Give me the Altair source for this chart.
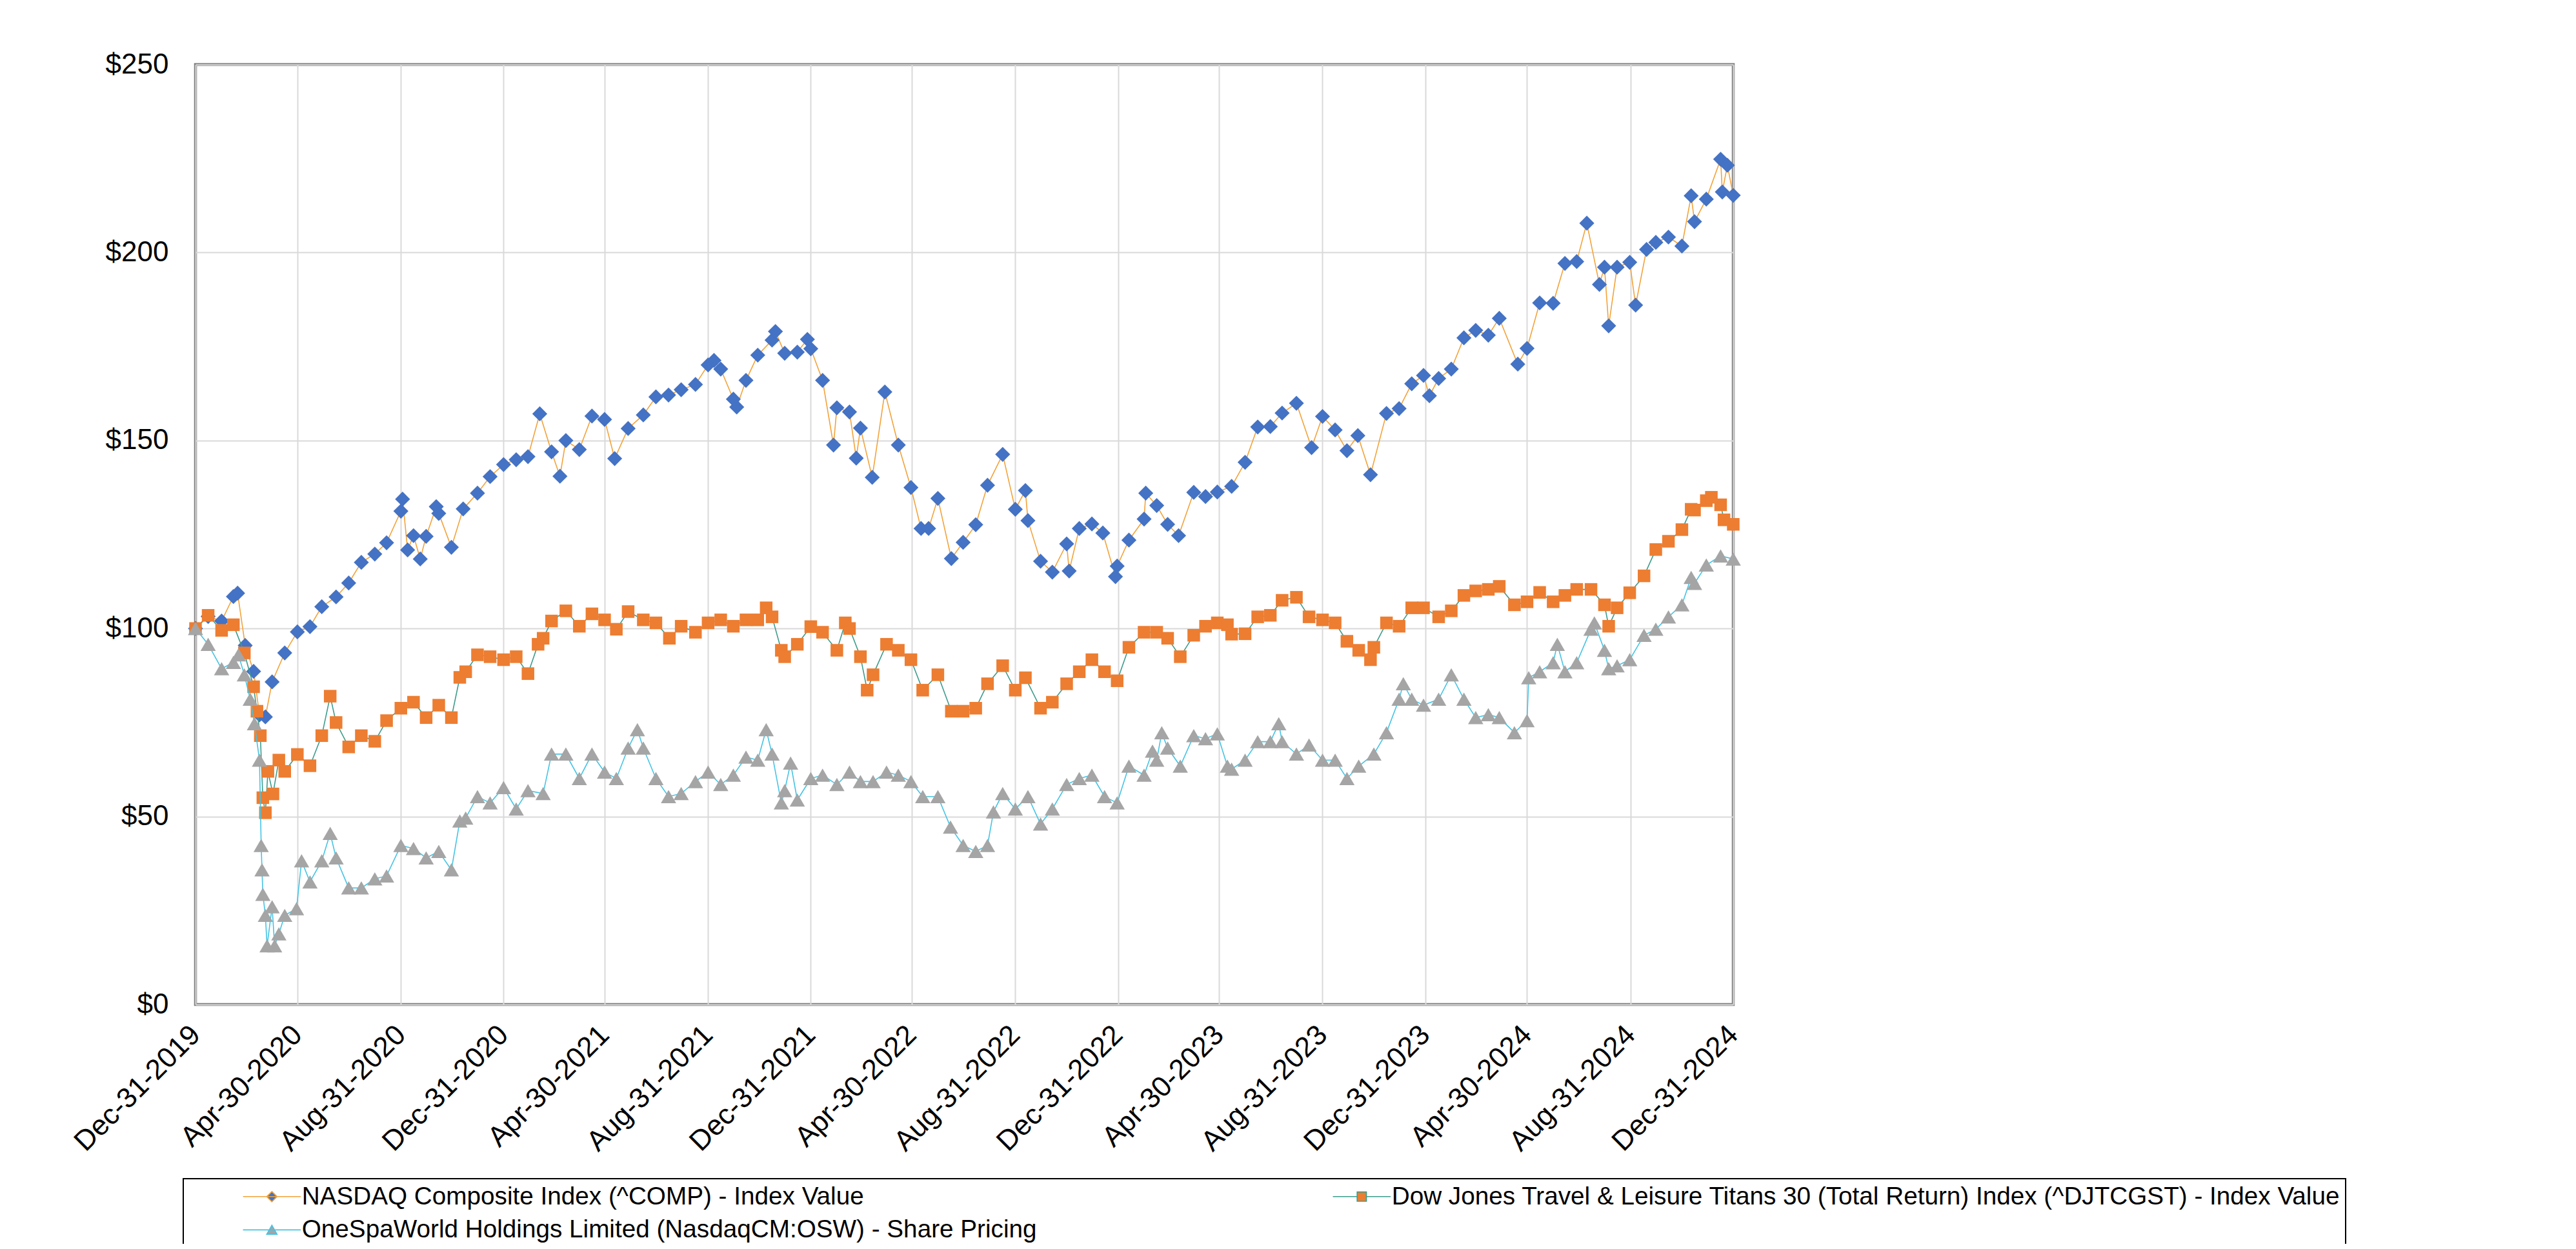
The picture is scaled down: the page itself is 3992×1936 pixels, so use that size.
import altair as alt
import pandas as pd

series_names = [
    "NASDAQ Composite Index (^COMP) - Index Value",
    "Dow Jones Travel & Leisure Titans 30 (Total Return) Index (^DJTCGST) - Index Value",
    "OneSpaWorld Holdings Limited (NasdaqCM:OSW) - Share Pricing",
]

nasdaq_dates = [
    "2019-12-31", "2020-01-15", "2020-01-31", "2020-02-14", "2020-02-19", "2020-02-28", "2020-03-09", "2020-03-16",
    "2020-03-23", "2020-03-31", "2020-04-15", "2020-04-30", "2020-05-15", "2020-05-29", "2020-06-15", "2020-06-30",
    "2020-07-15", "2020-07-31", "2020-08-14", "2020-08-31", "2020-09-02", "2020-09-08", "2020-09-15", "2020-09-23",
    "2020-09-30", "2020-10-12", "2020-10-15", "2020-10-30", "2020-11-13", "2020-11-30", "2020-12-15", "2020-12-31",
    "2021-01-15", "2021-01-29", "2021-02-12", "2021-02-26", "2021-03-08", "2021-03-15", "2021-03-31", "2021-04-15",
    "2021-04-30", "2021-05-12", "2021-05-28", "2021-06-15", "2021-06-30", "2021-07-15", "2021-07-30", "2021-08-16",
    "2021-08-31", "2021-09-07", "2021-09-15", "2021-09-30", "2021-10-04", "2021-10-15", "2021-10-29", "2021-11-15",
    "2021-11-19", "2021-11-30", "2021-12-15", "2021-12-27", "2021-12-31",
    "2022-01-14", "2022-01-27", "2022-01-31", "2022-02-15", "2022-02-23", "2022-02-28", "2022-03-14", "2022-03-29",
    "2022-04-14", "2022-04-29", "2022-05-11", "2022-05-20", "2022-05-31", "2022-06-16", "2022-06-30", "2022-07-15",
    "2022-07-29", "2022-08-16", "2022-08-31", "2022-09-12", "2022-09-15", "2022-09-30", "2022-10-14", "2022-10-31",
    "2022-11-03", "2022-11-15", "2022-11-30", "2022-12-13", "2022-12-28", "2022-12-30",
    "2023-01-13", "2023-01-31", "2023-02-02", "2023-02-15", "2023-02-28", "2023-03-13", "2023-03-31", "2023-04-14",
    "2023-04-28", "2023-05-15", "2023-05-31", "2023-06-15", "2023-06-30", "2023-07-14", "2023-07-31", "2023-08-18",
    "2023-08-31", "2023-09-15", "2023-09-29", "2023-10-12", "2023-10-27", "2023-11-15", "2023-11-30", "2023-12-15",
    "2023-12-29",
    "2024-01-05", "2024-01-16", "2024-01-31", "2024-02-15", "2024-02-29", "2024-03-15", "2024-03-28", "2024-04-19",
    "2024-04-30", "2024-05-15", "2024-05-31", "2024-06-14", "2024-06-28", "2024-07-10", "2024-07-25", "2024-07-31",
    "2024-08-05", "2024-08-15", "2024-08-30", "2024-09-06", "2024-09-19", "2024-09-30", "2024-10-15", "2024-10-31",
    "2024-11-11", "2024-11-15", "2024-11-29", "2024-12-16", "2024-12-18", "2024-12-24", "2024-12-31",
]
nasdaq_values = [
    100.0, 103.2, 102.0, 108.5, 109.4, 95.5, 88.6, 77.0, 76.5, 85.8, 93.5, 99.1, 100.5, 105.8, 108.4, 112.1,
    117.6, 119.8, 122.8, 131.2, 134.4, 120.9, 124.7, 118.5, 124.5, 132.4, 130.6, 121.6, 131.8, 136.0, 140.4, 143.6,
    144.9, 145.7, 157.1, 147.0, 140.5, 150.0, 147.6, 156.5, 155.6, 145.2, 153.2, 156.8, 161.6, 162.1, 163.5, 164.9,
    170.1, 171.3, 169.0, 161.0, 158.9, 166.0, 172.7, 176.7, 179.0, 173.2, 173.5, 176.9, 174.4,
    166.0, 148.8, 158.7, 157.6, 145.3, 153.3, 140.2, 162.9, 148.8, 137.5, 126.6, 126.6, 134.6, 118.6, 122.9, 127.6,
    138.1, 146.3, 131.7, 136.7, 128.7, 117.9, 115.0, 122.5, 115.3, 126.6, 127.8, 125.4, 113.8, 116.6,
    123.5, 129.1, 136.0, 132.7, 127.7, 124.7, 136.2, 135.1, 136.3, 137.8, 144.2, 153.6, 153.7, 157.3, 159.9, 148.1,
    156.4, 152.8, 147.3, 151.3, 140.9, 157.2, 158.5, 165.1, 167.3,
    161.9, 166.5, 169.0, 177.3, 179.3, 178.0, 182.5, 170.3, 174.5, 186.6, 186.5, 197.1, 197.6, 207.8, 191.5, 196.1,
    180.5, 196.1, 197.4, 186.0, 200.8, 202.7, 204.1, 201.7, 215.1, 208.2, 214.2, 224.8, 216.1, 223.2, 215.2,
]

dow_dates = [
    "2019-12-31", "2020-01-15", "2020-01-31", "2020-02-14", "2020-02-27", "2020-03-09", "2020-03-13", "2020-03-17",
    "2020-03-20", "2020-03-23", "2020-03-26", "2020-04-01", "2020-04-08", "2020-04-15", "2020-04-30", "2020-05-15",
    "2020-05-29", "2020-06-08", "2020-06-15", "2020-06-30", "2020-07-15", "2020-07-31", "2020-08-14", "2020-08-31",
    "2020-09-15", "2020-09-30", "2020-10-15", "2020-10-30", "2020-11-09", "2020-11-16", "2020-11-30", "2020-12-15",
    "2020-12-31",
    "2021-01-15", "2021-01-29", "2021-02-10", "2021-02-16", "2021-02-26", "2021-03-15", "2021-03-31", "2021-04-15",
    "2021-04-30", "2021-05-14", "2021-05-28", "2021-06-15", "2021-06-30", "2021-07-16", "2021-07-30", "2021-08-16",
    "2021-08-31", "2021-09-15", "2021-09-30", "2021-10-15", "2021-10-29", "2021-11-08", "2021-11-15", "2021-11-26",
    "2021-11-30", "2021-12-15", "2021-12-31",
    "2022-01-14", "2022-01-31", "2022-02-10", "2022-02-15", "2022-02-28", "2022-03-08", "2022-03-15", "2022-03-31",
    "2022-04-14", "2022-04-29", "2022-05-13", "2022-05-31", "2022-06-16", "2022-06-30", "2022-07-15", "2022-07-29",
    "2022-08-16", "2022-08-31", "2022-09-12", "2022-09-30", "2022-10-14", "2022-10-31", "2022-11-15", "2022-11-30",
    "2022-12-15", "2022-12-30",
    "2023-01-13", "2023-01-31", "2023-02-15", "2023-02-28", "2023-03-15", "2023-03-31", "2023-04-14", "2023-04-28",
    "2023-05-10", "2023-05-15", "2023-05-31", "2023-06-15", "2023-06-30", "2023-07-14", "2023-07-31", "2023-08-15",
    "2023-08-31", "2023-09-15", "2023-09-29", "2023-10-13", "2023-10-27", "2023-10-31", "2023-11-15", "2023-11-30",
    "2023-12-15", "2023-12-29",
    "2024-01-16", "2024-01-31", "2024-02-15", "2024-02-29", "2024-03-15", "2024-03-28", "2024-04-15", "2024-04-30",
    "2024-05-15", "2024-05-31", "2024-06-14", "2024-06-28", "2024-07-15", "2024-07-31", "2024-08-05", "2024-08-15",
    "2024-08-30", "2024-09-16", "2024-09-30", "2024-10-15", "2024-10-31", "2024-11-11", "2024-11-15", "2024-11-29",
    "2024-12-05", "2024-12-16", "2024-12-20", "2024-12-31",
]
dow_values = [
    100.0, 103.5, 99.5, 101.0, 93.5, 84.5, 78.0, 71.5, 55.0, 51.0, 62.0, 56.0, 65.0, 62.0, 66.5, 63.5,
    71.5, 82.0, 75.0, 68.5, 71.5, 70.0, 75.5, 78.8, 80.4, 76.3, 79.6, 76.3, 87.0, 88.5, 93.0, 92.5,
    91.7,
    92.5, 88.0, 95.8, 97.4, 102.0, 104.7, 100.6, 103.9, 102.3, 99.8, 104.5, 102.3, 101.5, 97.4, 100.6, 99.0,
    101.5, 102.3, 100.6, 102.3, 102.3, 105.5, 103.1, 94.2, 92.5, 95.8, 100.5,
    99.0, 94.2, 101.5, 100.0, 92.5, 83.6, 87.7, 95.8, 94.2, 91.7, 83.6, 87.7, 78.0, 78.0, 78.8, 85.3,
    90.1, 83.6, 86.9, 78.8, 80.4, 85.3, 88.5, 91.7, 88.5, 86.1,
    95.0, 99.0, 99.0, 97.4, 92.5, 98.2, 100.6, 101.5, 101.0, 98.5, 98.6, 103.1, 103.5, 107.5, 108.3, 103.1,
    102.3, 101.5, 96.6, 94.2, 91.7, 95.0, 101.5, 100.6, 105.5, 105.5,
    103.1, 104.7, 108.8, 110.0, 110.4, 111.2, 106.3, 107.1, 109.6, 107.1, 108.8, 110.4, 110.4, 106.3, 100.6, 105.5,
    109.5, 114.0, 121.0, 123.2, 126.3, 131.7, 131.5, 134.0, 134.9, 132.9, 128.9, 127.7,
]

osw_dates = [
    "2019-12-31", "2020-01-15", "2020-01-31", "2020-02-14", "2020-02-20", "2020-02-27", "2020-03-05", "2020-03-10",
    "2020-03-16", "2020-03-18", "2020-03-19", "2020-03-20", "2020-03-23", "2020-03-25", "2020-03-31", "2020-04-03",
    "2020-04-08", "2020-04-15", "2020-04-29", "2020-05-05", "2020-05-15", "2020-05-29", "2020-06-08", "2020-06-15",
    "2020-06-30", "2020-07-15", "2020-07-31", "2020-08-14", "2020-08-31", "2020-09-15", "2020-09-30", "2020-10-15",
    "2020-10-30", "2020-11-09", "2020-11-16", "2020-11-30", "2020-12-15", "2020-12-31",
    "2021-01-15", "2021-01-29", "2021-02-16", "2021-02-26", "2021-03-15", "2021-03-31", "2021-04-15", "2021-04-30",
    "2021-05-14", "2021-05-28", "2021-06-08", "2021-06-15", "2021-06-30", "2021-07-15", "2021-07-30", "2021-08-16",
    "2021-08-31", "2021-09-15", "2021-09-30", "2021-10-15", "2021-10-29", "2021-11-08", "2021-11-15", "2021-11-26",
    "2021-11-30", "2021-12-07", "2021-12-15", "2021-12-31",
    "2022-01-14", "2022-01-31", "2022-02-15", "2022-02-28", "2022-03-15", "2022-03-31", "2022-04-14", "2022-04-29",
    "2022-05-13", "2022-05-31", "2022-06-15", "2022-06-30", "2022-07-15", "2022-07-29", "2022-08-05", "2022-08-16",
    "2022-08-31", "2022-09-15", "2022-09-30", "2022-10-14", "2022-10-31", "2022-11-15", "2022-11-30", "2022-12-15",
    "2022-12-30",
    "2023-01-13", "2023-01-31", "2023-02-10", "2023-02-15", "2023-02-21", "2023-02-28", "2023-03-15", "2023-03-31",
    "2023-04-14", "2023-04-28", "2023-05-10", "2023-05-15", "2023-05-31", "2023-06-15", "2023-06-30", "2023-07-10",
    "2023-07-14", "2023-07-31", "2023-08-15", "2023-08-31", "2023-09-15", "2023-09-29", "2023-10-13", "2023-10-31",
    "2023-11-15", "2023-11-30", "2023-12-05", "2023-12-15", "2023-12-29",
    "2024-01-16", "2024-01-31", "2024-02-15", "2024-02-29", "2024-03-15", "2024-03-28", "2024-04-15", "2024-04-30",
    "2024-05-02", "2024-05-15", "2024-05-31", "2024-06-05", "2024-06-14", "2024-06-28", "2024-07-15", "2024-07-19",
    "2024-07-31", "2024-08-05", "2024-08-15", "2024-08-30", "2024-09-16", "2024-09-30", "2024-10-15", "2024-10-31",
    "2024-11-11", "2024-11-15", "2024-11-29", "2024-12-16", "2024-12-31",
]
osw_values = [
    100.0, 95.8, 89.3, 91.0, 93.0, 87.7, 81.2, 74.7, 65.0, 42.3, 35.8, 29.3, 23.7, 15.6, 26.0, 15.6,
    18.8, 23.7, 25.5, 38.2, 32.6, 38.2, 45.5, 39.0, 31.0, 31.0, 33.4, 34.2, 42.3, 41.5, 39.0, 40.7,
    35.8, 48.8, 49.6, 55.3, 53.6, 57.7,
    52.0, 56.9, 56.1, 66.6, 66.6, 60.1, 66.6, 61.8, 60.1, 68.2, 73.1, 68.2, 60.1, 55.3, 56.1, 59.3,
    61.8, 58.5, 61.0, 65.8, 65.0, 73.1, 66.6, 53.6, 56.9, 64.2, 54.4, 60.1,
    61.0, 58.5, 61.8, 59.3, 59.3, 61.8, 61.0, 59.3, 55.3, 55.3, 47.2, 42.3, 40.7, 42.3, 51.2, 56.1,
    52.0, 55.3, 48.0, 52.0, 58.5, 60.1, 61.0, 55.3, 53.6,
    63.4, 61.0, 67.4, 65.0, 72.3, 68.2, 63.4, 71.5, 70.7, 72.0, 63.4, 62.6, 65.0, 69.9, 69.9, 74.7,
    69.9, 66.6, 69.0, 65.0, 65.0, 60.1, 63.4, 66.6, 72.3, 81.2, 85.3, 81.2, 79.6,
    81.2, 87.7, 81.2, 76.3, 77.1, 76.3, 72.3, 75.5, 86.9, 88.5, 90.9, 95.8, 88.5, 90.9, 99.8, 101.5,
    94.2, 89.3, 90.1, 91.7, 98.2, 99.8, 103.1, 106.3, 113.6, 112.0, 116.9, 119.3, 118.5,
]

tick_dates = [
    (2019, 12, 31), (2020, 4, 30), (2020, 8, 31), (2020, 12, 31), (2021, 4, 30), (2021, 8, 31),
    (2021, 12, 31), (2022, 4, 30), (2022, 8, 31), (2022, 12, 31), (2023, 4, 30), (2023, 8, 31),
    (2023, 12, 31), (2024, 4, 30), (2024, 8, 31), (2024, 12, 31),
]
y_ticks = [0, 50, 100, 150, 200, 250]

marker_shapes = ["diamond", "square", "triangle-up"]
marker_sizes = [540, 380, 560]
marker_colors = ["#4472C4", "#ED7D31", "#A5A5A5"]
line_colors = ["#F2A33A", "#3E9C8C", "#45C4E4"]
legend_paths = [
    "M-5.6,0H5.6M0,-1L1,0L0,1L-1,0Z",
    "M-5.6,0H-0.9M0.9,0H5.6M-0.9,-0.9H0.9V0.9H-0.9Z",
    "M-5.6,0H5.6M0,-0.9L1,0.85H-1Z",
]
# legend is laid out column by column: NASDAQ and OSW in column 1, Dow Jones in column 2
legend_order = [0, 2, 1]

assert len(nasdaq_dates) == len(nasdaq_values)
assert len(dow_dates) == len(dow_values)
assert len(osw_dates) == len(osw_values)

df = pd.concat([
    pd.DataFrame({"date": nasdaq_dates, "value": nasdaq_values, "series": series_names[0]}),
    pd.DataFrame({"date": dow_dates, "value": dow_values, "series": series_names[1]}),
    pd.DataFrame({"date": osw_dates, "value": osw_values, "series": series_names[2]}),
], ignore_index=True)

legend_df = pd.DataFrame({"date": ["2026-06-30"] * 3, "value": [100.0] * 3, "series": series_names})

FONT = "Liberation Sans"

x_enc = alt.X(
    "date:T",
    title=None,
    scale=alt.Scale(
        type="utc",
        domain=[alt.DateTime(year=2019, month=12, date=31, utc=True),
                alt.DateTime(year=2024, month=12, date=31, utc=True)],
    ),
    axis=alt.Axis(
        values=[alt.DateTime(year=y, month=m, date=d, utc=True) for (y, m, d) in tick_dates],
        labelExpr="utcFormat(datum.value, '%b-%d-%Y')",
        labelAngle=315,
        labelAlign="right",
        labelBaseline="middle",
        labelPadding=40,
        labelOverlap=False,
        labelFlush=False,
        labelBound=False,
        labelLimit=2000,
    ),
)
y_enc = alt.Y(
    "value:Q",
    title=None,
    scale=alt.Scale(domain=[0, 250], nice=False, zero=True),
    axis=alt.Axis(values=y_ticks, format="$,.0f", labelPadding=42, labelLimit=2000),
)

layers = []
for name, shp, sz, mc, lc in zip(series_names, marker_shapes, marker_sizes, marker_colors, line_colors):
    b = alt.Chart(df).transform_filter(alt.datum.series == name)
    layers.append(b.mark_line(color=lc, strokeWidth=1.6).encode(x=x_enc, y=y_enc))
    layers.append(
        b.mark_point(shape=shp, filled=True, color=mc, size=sz, opacity=1, strokeWidth=0).encode(x=x_enc, y=y_enc)
    )

leg_domain = [series_names[i] for i in legend_order]
leg = alt.Legend(
    title=None,
    orient="none",
    legendX=-19,
    legendY=1727,
    columns=2,
    columnPadding=374,
    rowPadding=12,
    labelFontSize=38.7,
    labelFont=FONT,
    labelColor="black",
    labelLimit=4000,
    symbolSize=256,
    symbolStrokeWidth=1.6,
    symbolOffset=110,
    labelOffset=27,
    padding=8,
    strokeColor="black",
)
legend_layer = alt.Chart(legend_df).mark_point(filled=True, clip=True, size=256, opacity=1, strokeWidth=1.6).encode(
    x=x_enc,
    y=y_enc,
    shape=alt.Shape("series:N", sort=None,
                    scale=alt.Scale(domain=leg_domain, range=[legend_paths[i] for i in legend_order]), legend=leg),
    fill=alt.Fill("series:N", sort=None,
                  scale=alt.Scale(domain=leg_domain, range=[marker_colors[i] for i in legend_order]), legend=leg),
    stroke=alt.Stroke("series:N", sort=None,
                      scale=alt.Scale(domain=leg_domain, range=[line_colors[i] for i in legend_order]), legend=leg),
)

chart = alt.layer(*layers, legend_layer).properties(
    width=2383,
    height=1457,
    padding={"left": 295, "top": 92, "right": 1298, "bottom": 371},
    autosize=alt.AutoSizeParams(type="none"),
    background="white",
).configure_view(
    stroke="#808080",
    strokeWidth=4.5,
).configure_axis(
    grid=True,
    gridColor="#D9D9D9",
    gridWidth=2,
    domain=False,
    ticks=False,
    labelFont=FONT,
    labelFontSize=44,
    labelColor="black",
).configure_legend(
    strokeWidth=2,
)

chart.save("out.html", embed_options={"renderer": "svg", "actions": False})
